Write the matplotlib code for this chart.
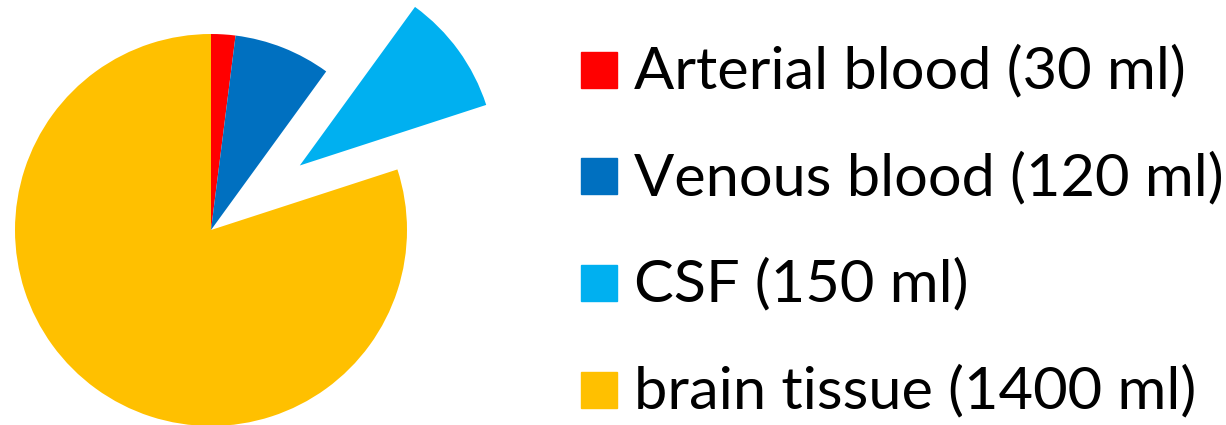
import matplotlib
matplotlib.use("Agg")
import matplotlib.pyplot as plt
from matplotlib.patches import Rectangle

# data
labels = ["Arterial blood (30 ml)", "Venous blood (120 ml)",
          "CSF (150 ml)", "brain tissue (1400 ml)"]
volumes = [30, 120, 150, 1200]   # slice sizes as drawn in the picture
explode = [0, 0, 0.56, 0]
colors = ["#FF0000", "#0070C0", "#00B0F0", "#FFC000"]

W, H = 1226, 425
fig = plt.figure(figsize=(W / 100, H / 100), dpi=100)

# pie: centre at pixel (211, 230), radius 196 px
cx, cy, r = 211, 230, 196
ax = fig.add_axes([0, 0, 500 / W, 1])
ax.pie(volumes, colors=colors, explode=explode, startangle=90,
       counterclock=False, radius=1, wedgeprops=dict(linewidth=0))
ax.set_xlim(-cx / r, (500 - cx) / r)
ax.set_ylim(-(H - cy) / r, cy / r)
ax.set_aspect("auto")
ax.axis("off")

# legend, drawn by hand in pixel positions
row0, step = 51.7, 106.7
for i, (lab, col) in enumerate(zip(labels, colors)):
    top = row0 + i * step
    fig.patches.append(Rectangle((581 / W, 1 - (top + 36) / H), 36 / W, 36 / H,
                                 transform=fig.transFigure, color=col))
    fig.text(634 / W, 1 - (top + 36.6) / H, lab, fontsize=42.8,
             family="Lato", va="baseline", ha="left")

fig.savefig("out.png", dpi=100)
